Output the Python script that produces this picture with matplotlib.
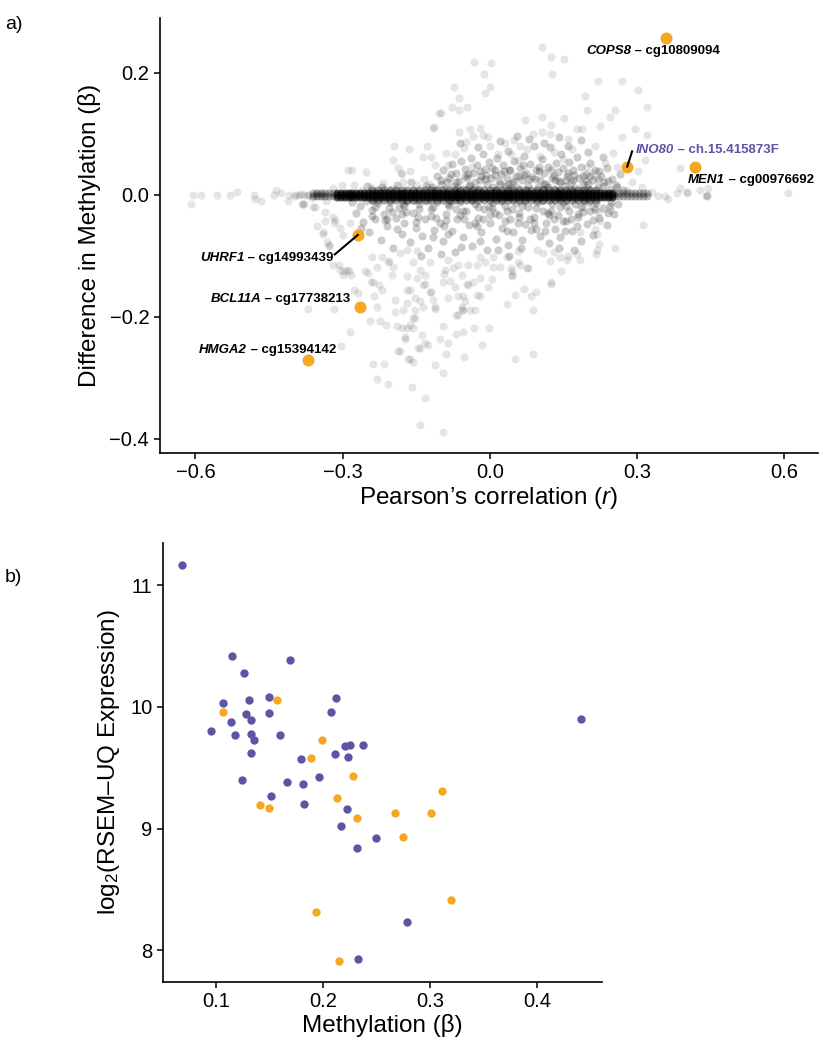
import numpy as np
import matplotlib
matplotlib.use("Agg")
import matplotlib.pyplot as plt

plt.rcParams['font.family'] = ['Liberation Sans', 'DejaVu Sans']
plt.rcParams['mathtext.fontset'] = 'custom'
plt.rcParams['mathtext.rm'] = 'Liberation Sans'
plt.rcParams['mathtext.it'] = 'Liberation Sans:italic'

# ---- panel a: background probes (approximate) ----
sparse_pts = [
    # left tail
    (-0.610, -0.015), (-0.606, 0.0), (-0.588, 0.0), (-0.557, 0.0), (-0.529, 0.0), (-0.516, 0.005),
    (-0.480, 0.0), (-0.478, -0.007), (-0.467, -0.011), (-0.435, 0.008), (-0.412, -0.011), (-0.390, 0.0),
    (-0.380, -0.016), (-0.370, 0.0), (-0.362, -0.005), (-0.355, 0.0), (-0.44, 0.0), (-0.425, 0.002),
    (-0.41, 0.0), (-0.40, -0.002), (-0.385, 0.001), (-0.37, -0.001), (-0.355, 0.002), (-0.345, 0.0),
    (-0.338, -0.003), (-0.395, 0.0), (-0.378, 0.0), (-0.36, 0.0), (-0.35, -0.002), (-0.342, 0.002),
    # upper left
    (-0.196, 0.079), (-0.165, 0.075), (-0.198, 0.057), (-0.290, 0.041), (-0.280, 0.040), (-0.253, 0.037),
    (-0.182, 0.036), (-0.218, 0.019), (-0.302, 0.016), (-0.320, 0.011), (-0.276, 0.016), (-0.104, 0.134),
    (-0.114, 0.111), (-0.129, 0.079), (-0.137, 0.062), (-0.120, 0.062), (-0.188, 0.044), (-0.112, 0.049),
    (-0.180, 0.034), (-0.163, 0.038), (-0.178, 0.020), (-0.149, 0.016), (-0.135, 0.026), (-0.242, 0.012),
    (-0.260, 0.008), (-0.200, 0.010), (-0.155, 0.008), (-0.125, 0.018),
    # upper middle
    (0.106, 0.243), (0.124, 0.225), (0.151, 0.223), (0.127, 0.198), (-0.033, 0.218), (0.002, 0.216),
    (-0.012, 0.198), (-0.073, 0.177), (0.000, 0.177), (-0.010, 0.166), (-0.063, 0.159), (-0.078, 0.143),
    (-0.063, 0.139), (-0.047, 0.144), (-0.100, 0.134), (0.071, 0.123), (0.106, 0.128), (0.151, 0.126),
    (-0.020, 0.110), (-0.063, 0.103), (-0.041, 0.107), (0.088, 0.100), (0.106, 0.102), (0.124, 0.115),
    (0.122, 0.100), (0.159, 0.092), (0.177, 0.107), (-0.049, 0.087), (-0.035, 0.097), (-0.014, 0.098),
    (-0.004, 0.095), (-0.090, 0.069), (-0.071, 0.067), (-0.053, 0.077), (0.000, 0.079), (0.031, 0.085),
    (0.049, 0.089), (0.061, 0.079), (0.076, 0.075), (0.043, 0.067), (0.016, 0.067), (0.057, 0.057),
    (0.102, 0.064), (0.131, 0.070), (0.149, 0.059), (0.167, 0.075), (-0.086, 0.048), (-0.037, 0.046),
    (-0.116, 0.110),
    # upper right
    (0.220, 0.187), (0.269, 0.187), (0.302, 0.172), (0.194, 0.161), (0.255, 0.139), (0.320, 0.144),
    (0.198, 0.139), (0.245, 0.128), (0.224, 0.112), (0.296, 0.107), (0.269, 0.095), (0.320, 0.098),
    (0.188, 0.107), (0.214, 0.079), (0.251, 0.069), (0.235, 0.052), (0.198, 0.046), (0.259, 0.046),
    (0.210, 0.036), (0.302, 0.038), (0.388, 0.011), (0.357, -0.003), (0.402, 0.003), (0.429, 0.008),
    (0.443, 0.0), (0.388, 0.044), (0.445, 0.011), (0.608, 0.003), (0.443, -0.003), (0.402, 0.005),
    (0.381, 0.003), (0.343, -0.003), (0.316, 0.057), (0.363, -0.007), (0.441, -0.003), (0.330, 0.005),
    (0.310, 0.012), (0.290, 0.020), (0.280, 0.008),
    # lower right
    (0.245, -0.025), (0.224, -0.044), (0.312, -0.049), (0.190, -0.021), (0.220, -0.028), (0.210, -0.020),
    (0.214, -0.056), (0.218, -0.064), (0.184, -0.061), (0.222, -0.081), (0.255, -0.087), (0.218, -0.090),
    (0.216, -0.097), (0.184, -0.107), (0.177, -0.098), (0.145, -0.125), (0.124, -0.146), (0.157, -0.107),
    (0.131, -0.094), (0.096, -0.090), (0.108, -0.095), (0.078, -0.121), (0.057, -0.111), (0.045, -0.134),
    (0.035, -0.179), (0.069, -0.154), (0.094, -0.159), (0.084, -0.167), (0.088, -0.190), (0.051, -0.164),
    (0.124, -0.144), (0.122, -0.108), (0.143, -0.103), (0.160, -0.100), (0.057, -0.092), (0.076, -0.120),
    (0.061, -0.115), (0.045, -0.132), (0.043, -0.121), (0.020, -0.118), (0.006, -0.102), (0.051, -0.270),
    (0.088, -0.261),
    # lower middle
    (-0.002, -0.218), (-0.016, -0.246), (-0.033, -0.218), (-0.055, -0.226), (-0.053, -0.267), (-0.069, -0.228),
    (-0.086, -0.244), (-0.090, -0.261), (-0.096, -0.216), (-0.102, -0.236), (-0.112, -0.280), (-0.096, -0.293),
    (-0.133, -0.334), (-0.143, -0.377), (-0.096, -0.390), (-0.159, -0.316), (-0.157, -0.274), (-0.167, -0.269),
    (-0.143, -0.252), (-0.133, -0.243), (-0.173, -0.236), (-0.184, -0.257), (-0.055, -0.189), (-0.031, -0.189),
    (-0.069, -0.197), (-0.153, -0.202), (-0.169, -0.218), (-0.157, -0.218), (-0.112, -0.187), (-0.137, -0.185),
    (-0.086, -0.169), (-0.071, -0.151), (-0.047, -0.147), (-0.020, -0.167), (-0.004, -0.152), (0.004, -0.139),
    (-0.020, -0.136), (-0.055, -0.167), (-0.041, -0.189), (-0.153, -0.169), (-0.169, -0.156), (-0.116, -0.172),
    (-0.122, -0.159), (-0.133, -0.147), (-0.035, -0.144), (-0.045, -0.149), (-0.027, -0.164), (-0.051, -0.175),
    (-0.057, -0.189), (-0.082, -0.141), (-0.065, -0.166), (-0.057, -0.185), (-0.065, -0.197), (-0.094, -0.130),
    (-0.096, -0.144), (-0.057, -0.131), (-0.076, -0.120), (-0.092, -0.123), (-0.086, -0.107), (-0.065, -0.115),
    (-0.045, -0.115), (-0.027, -0.115), (-0.020, -0.103), (-0.010, -0.111), (0.006, -0.118), (0.035, -0.103),
    (0.045, -0.125),
    # lower left
    (-0.353, -0.052), (-0.341, -0.064), (-0.327, -0.082), (-0.337, -0.044), (-0.316, -0.041), (-0.306, -0.054),
    (-0.300, -0.066), (-0.286, -0.046), (-0.357, -0.020), (-0.378, -0.016), (-0.333, -0.011), (-0.308, -0.116),
    (-0.298, -0.125), (-0.300, -0.131), (-0.288, -0.126), (-0.255, -0.126), (-0.249, -0.128), (-0.231, -0.118),
    (-0.241, -0.102), (-0.220, -0.102), (-0.208, -0.111), (-0.243, -0.143), (-0.239, -0.144), (-0.220, -0.156),
    (-0.276, -0.156), (-0.269, -0.161), (-0.237, -0.167), (-0.231, -0.185), (-0.371, -0.187), (-0.318, -0.187),
    (-0.286, -0.226), (-0.245, -0.208), (-0.224, -0.208), (-0.194, -0.192), (-0.212, -0.213), (-0.190, -0.215),
    (-0.304, -0.249), (-0.239, -0.277), (-0.216, -0.277), (-0.229, -0.302), (-0.208, -0.310), (-0.188, -0.257),
    (-0.163, -0.270), (-0.147, -0.251), (-0.127, -0.246), (-0.139, -0.230), (-0.173, -0.234), (-0.180, -0.218),
    (-0.163, -0.213), (-0.157, -0.202), (-0.178, -0.189), (-0.153, -0.189), (-0.169, -0.177), (-0.143, -0.174),
    (-0.112, -0.185), (-0.194, -0.172), (-0.163, -0.156), (-0.137, -0.148), (-0.120, -0.159), (-0.149, -0.136),
    (-0.133, -0.131), (-0.169, -0.134), (-0.200, -0.131), (-0.206, -0.108), (-0.198, -0.118), (-0.184, -0.095),
    (-0.157, -0.111), (-0.143, -0.123), (-0.122, -0.110), (-0.169, -0.090), (-0.149, -0.093), (-0.320, -0.115),
    (-0.306, -0.123), (-0.292, -0.123), (-0.282, -0.131), (-0.225, -0.149), (-0.341, -0.062), (-0.331, -0.077),
    (-0.327, -0.085), (-0.318, -0.046), (-0.320, -0.036), (-0.337, -0.028), (-0.361, -0.021), (-0.382, -0.016),
]

dense_pts = [
    # above the band
    (-0.118, 0.012), (-0.108, 0.030), (-0.100, 0.018), (-0.095, 0.040), (-0.090, 0.010), (-0.084, 0.027),
    (-0.078, 0.050), (-0.073, 0.015), (-0.068, 0.035), (-0.063, 0.022), (-0.058, 0.055), (-0.055, 0.010),
    (-0.050, 0.042), (-0.046, 0.028), (-0.042, 0.015), (-0.038, 0.060), (-0.034, 0.036), (-0.030, 0.020),
    (-0.026, 0.048), (-0.022, 0.010), (-0.018, 0.031), (-0.014, 0.066), (-0.010, 0.042), (-0.006, 0.018),
    (-0.002, 0.054), (0.002, 0.027), (0.006, 0.012), (0.010, 0.040), (0.014, 0.060), (0.018, 0.022),
    (0.022, 0.034), (0.026, 0.049), (0.030, 0.014), (0.034, 0.028), (0.038, 0.071), (0.042, 0.040),
    (0.046, 0.019), (0.050, 0.055), (0.054, 0.031), (0.058, 0.011), (0.062, 0.044), (0.066, 0.024),
    (0.070, 0.064), (0.074, 0.036), (0.078, 0.016), (0.082, 0.050), (0.086, 0.029), (0.090, 0.080),
    (0.094, 0.041), (0.098, 0.013), (0.102, 0.024), (0.106, 0.058), (0.110, 0.035), (0.114, 0.018),
    (0.118, 0.046), (0.122, 0.078), (0.126, 0.028), (0.130, 0.010), (0.134, 0.052), (0.138, 0.037),
    (0.142, 0.021), (0.146, 0.066), (0.150, 0.044), (0.154, 0.014), (0.158, 0.030), (0.162, 0.054),
    (0.166, 0.020), (0.170, 0.040), (0.174, 0.011), (0.178, 0.062), (0.182, 0.028), (0.186, 0.046),
    (0.190, 0.017), (0.195, 0.034), (0.200, 0.010), (0.205, 0.052), (0.210, 0.024), (0.215, 0.040),
    (0.220, 0.013), (0.226, 0.030), (0.232, 0.020), (0.238, 0.044), (0.244, 0.010), (0.250, 0.026),
    (0.258, 0.016), (0.265, 0.034), (0.272, 0.008), (-0.060, 0.085), (0.020, 0.088), (0.056, 0.096),
    (0.110, 0.084), (0.200, 0.070), (0.185, 0.090), (0.140, 0.095), (-0.025, 0.078), (0.080, 0.092),
    (0.160, 0.080), (0.230, 0.062), (-0.112, 0.008), (-0.087, 0.021), (-0.066, 0.011), (-0.044, 0.034),
    (-0.020, 0.024), (0.004, 0.044), (0.012, 0.008), (0.028, 0.038), (0.044, 0.011), (0.060, 0.030),
    (0.076, 0.008), (0.092, 0.026), (0.108, 0.009), (0.124, 0.040), (0.140, 0.008), (0.156, 0.024),
    (0.172, 0.033), (0.188, 0.008), (0.204, 0.030), (0.222, 0.038), (0.240, 0.022), (-0.032, 0.009),
    (-0.008, 0.033), (0.036, 0.018), (0.068, 0.048), (0.100, 0.046), (0.132, 0.024), (0.164, 0.010),
    (0.196, 0.022), (0.118, 0.012),
    # below the band
    (-0.280, -0.012), (-0.272, -0.030), (-0.265, -0.018), (-0.258, -0.045), (-0.252, -0.010), (-0.246, -0.062),
    (-0.240, -0.025), (-0.234, -0.040), (-0.228, -0.014), (-0.222, -0.075), (-0.216, -0.032), (-0.210, -0.052),
    (-0.204, -0.012), (-0.198, -0.088), (-0.192, -0.038), (-0.186, -0.022), (-0.180, -0.064), (-0.174, -0.046),
    (-0.168, -0.010), (-0.162, -0.078), (-0.156, -0.030), (-0.150, -0.055), (-0.144, -0.016), (-0.138, -0.068),
    (-0.132, -0.040), (-0.126, -0.088), (-0.120, -0.024), (-0.114, -0.058), (-0.108, -0.012), (-0.102, -0.046),
    (-0.096, -0.076), (-0.090, -0.032), (-0.084, -0.018), (-0.078, -0.060), (-0.072, -0.094), (-0.066, -0.040),
    (-0.060, -0.012), (-0.054, -0.070), (-0.048, -0.026), (-0.042, -0.050), (-0.036, -0.085), (-0.030, -0.016),
    (-0.024, -0.038), (-0.018, -0.062), (-0.012, -0.024), (-0.006, -0.090), (0.000, -0.046), (0.006, -0.012),
    (0.012, -0.072), (0.018, -0.034), (0.024, -0.054), (0.030, -0.018), (0.036, -0.082), (0.042, -0.040),
    (0.048, -0.062), (0.054, -0.014), (0.060, -0.030), (0.066, -0.074), (0.072, -0.048), (0.078, -0.020),
    (0.084, -0.058), (0.090, -0.036), (0.096, -0.012), (0.102, -0.068), (0.108, -0.026), (0.114, -0.046),
    (0.120, -0.080), (0.126, -0.016), (0.132, -0.056), (0.138, -0.034), (0.144, -0.070), (0.150, -0.012),
    (0.156, -0.044), (0.162, -0.026), (0.168, -0.060), (0.174, -0.016), (0.180, -0.036), (0.186, -0.076),
    (0.192, -0.010), (0.198, -0.048), (0.204, -0.026), (0.210, -0.066), (0.216, -0.014), (0.222, -0.038),
    (0.230, -0.022), (0.238, -0.050), (0.246, -0.012), (0.254, -0.032), (0.262, -0.016),
    (-0.262, -0.054), (-0.238, -0.008), (-0.214, -0.042), (-0.190, -0.056), (-0.170, -0.028), (-0.146, -0.036),
    (-0.128, -0.010), (-0.110, -0.038), (-0.094, -0.052), (-0.080, -0.010), (-0.068, -0.024), (-0.052, -0.040),
    (-0.038, -0.008), (-0.026, -0.052), (-0.014, -0.040), (-0.002, -0.020), (0.010, -0.030), (0.022, -0.010),
    (0.034, -0.060), (0.046, -0.024), (0.058, -0.046), (0.070, -0.010), (0.082, -0.040), (0.094, -0.056),
    (0.106, -0.010), (0.118, -0.030), (0.130, -0.040), (0.142, -0.020), (0.154, -0.060), (0.166, -0.040),
    (0.178, -0.052), (0.190, -0.028), (0.202, -0.012), (-0.200, -0.028), (-0.176, -0.016), (-0.152, -0.008),
    (-0.116, -0.070), (-0.086, -0.064), (-0.058, -0.086), (-0.020, -0.076), (0.016, -0.090), (0.064, -0.088),
    (0.112, -0.060), (0.140, -0.088), (0.172, -0.090), (-0.140, -0.100), (-0.100, -0.098), (0.040, -0.100),
    # close to the band
    (-0.250, 0.015), (-0.235, -0.020), (-0.220, 0.012), (-0.205, -0.022), (-0.190, 0.016), (-0.175, -0.018),
    (-0.160, 0.020), (-0.145, -0.024), (-0.130, 0.014), (-0.115, -0.020), (-0.100, 0.024), (-0.085, -0.016),
    (-0.070, 0.020), (-0.055, -0.026), (-0.040, 0.016), (-0.025, -0.020), (-0.010, 0.026), (0.005, -0.022),
    (0.020, 0.018), (0.035, -0.026), (0.050, 0.022), (0.065, -0.018), (0.080, 0.026), (0.095, -0.022),
    (0.110, 0.018), (0.125, -0.026), (0.140, 0.022), (0.155, -0.018), (0.170, 0.024), (0.185, -0.020),
    (0.200, 0.018), (0.215, -0.024), (0.230, 0.014), (0.245, -0.018), (0.260, 0.012),
    (-0.240, -0.035), (-0.210, -0.040), (-0.180, -0.032), (-0.150, -0.045), (-0.120, -0.035), (-0.090, -0.042),
    (-0.060, -0.034), (-0.030, -0.046), (0.000, -0.034), (0.030, -0.044), (0.060, -0.036), (0.090, -0.046),
    (0.120, -0.034), (0.150, -0.044), (0.180, -0.032), (0.210, -0.042), (0.240, -0.030),
    (-0.080, 0.034), (-0.050, 0.030), (-0.020, 0.038), (0.010, 0.032), (0.040, 0.040), (0.070, 0.032),
    (0.100, 0.038), (0.130, 0.030), (0.160, 0.036), (0.190, 0.030), (0.220, 0.026),
]

# the near-zero black band: x positions along it, and its row offsets
core_x = [-0.312, -0.304, -0.296, -0.288, -0.280, -0.272, -0.264, -0.256, -0.248, -0.240, -0.232, -0.224,
          -0.216, -0.208, -0.200, -0.192, -0.184, -0.176, -0.168, -0.160, -0.152, -0.144, -0.136, -0.128,
          -0.120, -0.112, -0.104, -0.096, -0.088, -0.080, -0.072, -0.064, -0.056, -0.048, -0.040, -0.032,
          -0.024, -0.016, -0.008, 0.000, 0.008, 0.016, 0.024, 0.032, 0.040, 0.048, 0.056, 0.064,
          0.072, 0.080, 0.088, 0.096, 0.104, 0.112, 0.120, 0.128, 0.136, 0.144, 0.152, 0.160,
          0.168, 0.176, 0.184, 0.192, 0.200, 0.208, 0.216, 0.224, 0.232, 0.240, 0.248]
core_rows = [-0.0035, 0.0, 0.0035]
# the band is thicker over this stretch
wide_x = [-0.240, -0.228, -0.216, -0.204, -0.192, -0.180, -0.168, -0.156, -0.144, -0.132, -0.120, -0.108,
          -0.096, -0.084, -0.072, -0.060, -0.048, -0.036, -0.024, -0.012, 0.000, 0.012, 0.024, 0.036,
          0.048, 0.060, 0.072, 0.084, 0.096, 0.108, 0.120, 0.132, 0.144, 0.156, 0.168, 0.180, 0.192,
          0.204, 0.216]
wide_rows = [-0.008, 0.008]
fringe_x = [-0.360, -0.352, -0.344, -0.336, -0.328, -0.320, 0.256, 0.264, 0.272, 0.280, 0.288, 0.296,
            0.304, 0.312, 0.320]
fringe_rows = [-0.003, 0.003]

hl_genes = ['COPS8', 'INO80', 'MEN1', 'UHRF1', 'BCL11A', 'HMGA2']
hl_probes = ['cg10809094', 'ch.15.415873F', 'cg00976692', 'cg14993439', 'cg17738213', 'cg15394142']
hl_r = [0.359, 0.280, 0.418, -0.269, -0.265, -0.371]
hl_diff = [0.257, 0.046, 0.046, -0.066, -0.185, -0.272]

# ---- panel b ----
purple_meth = [0.068, 0.115, 0.126, 0.169, 0.106, 0.130, 0.149, 0.212, 0.128, 0.149, 0.207, 0.132,
               0.114, 0.095, 0.117, 0.132, 0.135, 0.159, 0.132, 0.220, 0.225, 0.237, 0.179, 0.211,
               0.223, 0.124, 0.166, 0.181, 0.196, 0.151, 0.182, 0.222, 0.216, 0.231, 0.249, 0.278,
               0.232, 0.441]
purple_expr = [11.17, 10.42, 10.28, 10.39, 10.03, 10.06, 10.08, 10.07, 9.94, 9.95, 9.96, 9.89,
               9.88, 9.80, 9.77, 9.78, 9.73, 9.77, 9.62, 9.68, 9.69, 9.69, 9.57, 9.61,
               9.59, 9.40, 9.38, 9.37, 9.42, 9.27, 9.20, 9.16, 9.02, 8.84, 8.92, 8.23,
               7.93, 9.90]
orange_meth = [0.106, 0.157, 0.199, 0.188, 0.228, 0.141, 0.149, 0.213, 0.231, 0.267, 0.301, 0.311,
               0.274, 0.319, 0.193, 0.215]
orange_expr = [9.96, 10.06, 9.73, 9.58, 9.43, 9.19, 9.17, 9.25, 9.09, 9.13, 9.13, 9.31,
               8.93, 8.41, 8.31, 7.91]

PURPLE = '#5B56A4'
ORANGE = '#F7A823'


def style_axes(ax):
    for side in ['top', 'right']:
        ax.spines[side].set_visible(False)
    for side in ['left', 'bottom']:
        ax.spines[side].set_linewidth(1.2)
    ax.tick_params(direction='out', length=4, width=1.1, labelsize=14.5, colors='black')


def gene_label(ax, gene, probe, x, y, ha, color='black'):
    # italic gene name + bold probe id, baselines aligned
    if ha == 'left':
        t1 = ax.text(x, y, gene, ha='left', va='bottom', fontsize=9.5, fontweight='bold',
                     style='italic', color=color)
        ax.annotate(' \u2013 ' + probe, xy=(1, 0), xycoords=t1, ha='left', va='bottom',
                    fontsize=9.5, fontweight='bold', color=color)
    else:
        t2 = ax.text(x, y, ' \u2013 ' + probe, ha='right', va='bottom', fontsize=9.5,
                     fontweight='bold', color=color)
        ax.annotate(gene, xy=(0, 0), xycoords=t2, ha='right', va='bottom', fontsize=9.5,
                    fontweight='bold', style='italic', color=color)


def band(ax, xs, rows, alpha):
    px = [x for x in xs for _ in rows]
    py = [r for _ in xs for r in rows]
    ax.scatter(px, py, s=34, color='black', alpha=alpha, linewidths=0)


fig = plt.figure(figsize=(8.23, 10.5), dpi=100)

# ---------------- a) ----------------
ax1 = fig.add_axes([0.194, 0.569, 0.800, 0.414])
sx, sy = zip(*sparse_pts)
dx, dy = zip(*dense_pts)
ax1.scatter(sx, sy, s=34, color='black', alpha=0.10, linewidths=0)
ax1.scatter(dx, dy, s=34, color='black', alpha=0.20, linewidths=0)
band(ax1, fringe_x, fringe_rows, 0.25)
band(ax1, wide_x, wide_rows, 0.35)
band(ax1, core_x, core_rows, 0.6)
ax1.scatter(hl_r, hl_diff, s=75, color=ORANGE, linewidths=0, zorder=3)

# labels
gene_label(ax1, 'COPS8', 'cg10809094', 0.196, 0.225, 'left')
gene_label(ax1, 'INO80', 'ch.15.415873F', 0.298, 0.064, 'left', color=PURPLE)
gene_label(ax1, 'MEN1', 'cg00976692', 0.404, 0.014, 'left')
gene_label(ax1, 'UHRF1', 'cg14993439', -0.318, -0.113, 'right')
gene_label(ax1, 'BCL11A', 'cg17738213', -0.284, -0.181, 'right')
gene_label(ax1, 'HMGA2', 'cg15394142', -0.314, -0.265, 'right')
ax1.plot([0.280, 0.290], [0.046, 0.071], color='black', lw=1.5, zorder=4)
ax1.plot([-0.316, -0.269], [-0.098, -0.066], color='black', lw=1.5, zorder=4)

ax1.set_xlim(-0.673, 0.669)
ax1.set_ylim(-0.423, 0.29)
ax1.set_xticks([-0.6, -0.3, 0.0, 0.3, 0.6])
ax1.set_yticks([-0.4, -0.2, 0.0, 0.2])
ax1.set_xticklabels(['\u22120.6', '\u22120.3', '0.0', '0.3', '0.6'])
ax1.set_yticklabels(['\u22120.4', '\u22120.2', '0.0', '0.2'])
style_axes(ax1)
ax1.set_xlabel("Pearson\u2019s correlation ($\\it{r}$)", fontsize=17.5, labelpad=2)
ax1.set_ylabel('Difference in Methylation (\u03b2)', fontsize=17.5, labelpad=6)
fig.text(0.006, 0.985, 'a)', fontsize=14, va='top')

# ---------------- b) ----------------
ax2 = fig.add_axes([0.198, 0.065, 0.533, 0.418])
ax2.scatter(purple_meth, purple_expr, s=36, color=PURPLE, linewidths=0)
ax2.scatter(orange_meth, orange_expr, s=36, color=ORANGE, linewidths=0)
ax2.set_xlim(0.05, 0.46)
ax2.set_ylim(7.74, 11.35)
ax2.set_xticks([0.1, 0.2, 0.3, 0.4])
ax2.set_yticks([8, 9, 10, 11])
style_axes(ax2)
ax2.set_xlabel('Methylation (\u03b2)', fontsize=17.5, labelpad=2)
ax2.set_ylabel('log$_2$(RSEM\u2013UQ Expression)', fontsize=17.5, labelpad=6)
fig.text(0.006, 0.458, 'b)', fontsize=14, va='top')

fig.savefig('out.png', dpi=100)
